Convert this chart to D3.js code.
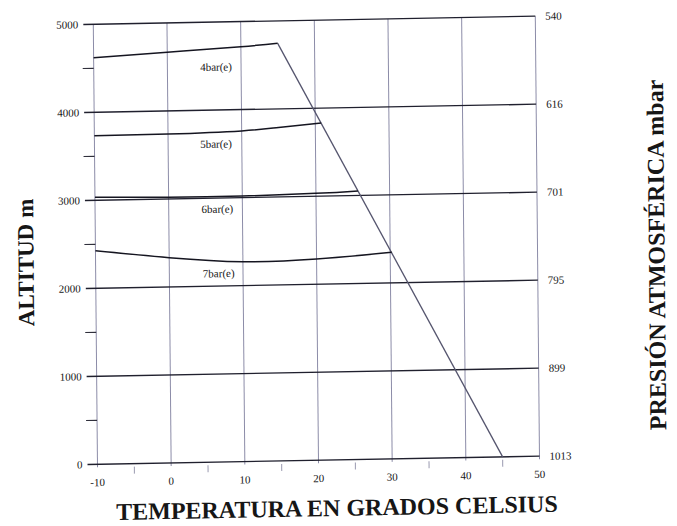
<!DOCTYPE html>
<html>
<head>
<meta charset="utf-8">
<script src="https://cdn.jsdelivr.net/npm/d3@7"></script>
<style>
  body { margin: 0; background: #fff; }
  svg text { font-family: "Liberation Serif", "Times New Roman", serif; fill: #161616; }
</style>
</head>
<body>
<svg id="chart" width="677" height="526"></svg>
<script>
// Axis ticks
const tempTicks = [-10, 0, 10, 20, 30, 40, 50];
const tempMinorTicks = [-5, 5, 15, 25, 35, 45];
const altTicks = [0, 1000, 2000, 3000, 4000, 5000];
const altMinorTicks = [500, 1500, 2500, 3500, 4500];
const pressureLabels = ["1013", "899", "795", "701", "616", "540"];

// Temperature lapse line: [°C, m]
const lapseLine = [[45, 0], [15, 4745]];

// Constant-pressure curves: [°C, m]
const curve4bar = [[-10, 4620], [0, 4667], [10, 4715], [15, 4745]];
const curve5bar = [[-10, 3734], [0, 3738], [10, 3758], [15, 3790], [20.8, 3832]];
const curve6bar = [[-10, 3035], [0, 3020], [10, 3018], [20, 3033], [25.7, 3052]];
const curve7bar = [[-10, 2427], [0, 2333], [10, 2272], [20, 2286], [30.2, 2347]];

const curveNames = ["4bar(e)", "5bar(e)", "6bar(e)", "7bar(e)"];
const curveLabelAt = [[6.6, 4490], [6.5, 3615], [6.6, 2876], [6.7, 2144]];

const W = 442, H = 440;
const svg = d3.select("#chart");
// the printed sheet sits slightly askew
const g = svg.append("g")
  .attr("transform", "matrix(1,-0.0184,0.0095,1,93.3,24.3)");

const x = d3.scaleLinear().domain([-10, 50]).range([0, W]);
const y = d3.scaleLinear().domain([0, 5000]).range([H, 0]);

// vertical grid lines
g.selectAll("line.vgrid").data(tempTicks).join("line")
  .attr("class", "vgrid")
  .attr("x1", d => x(d)).attr("x2", d => x(d))
  .attr("y1", 0).attr("y2", H + 3)
  .attr("stroke", "#8c8ca8").attr("stroke-width", 1);

// minor temperature ticks below the axis
g.selectAll("line.xminor").data(tempMinorTicks).join("line")
  .attr("class", "xminor")
  .attr("x1", d => x(d)).attr("x2", d => x(d))
  .attr("y1", H + 3).attr("y2", H + 10)
  .attr("stroke", "#9a9ab0").attr("stroke-width", 1);

// horizontal grid lines (extend left as ticks)
g.selectAll("line.hgrid").data(altTicks).join("line")
  .attr("class", "hgrid")
  .attr("x1", -10).attr("x2", W)
  .attr("y1", d => y(d)).attr("y2", d => y(d))
  .attr("stroke", "#20202e").attr("stroke-width", 1.4);

g.selectAll("line.yminor").data(altMinorTicks).join("line")
  .attr("class", "yminor")
  .attr("x1", -11).attr("x2", 0)
  .attr("y1", d => y(d)).attr("y2", d => y(d))
  .attr("stroke", "#30303c").attr("stroke-width", 1.2);

// left altitude labels
g.selectAll("text.ylab").data(altTicks).join("text")
  .attr("class", "ylab")
  .attr("x", -15).attr("y", d => y(d)).attr("dy", "0.35em")
  .attr("text-anchor", "end").attr("font-size", 11)
  .text(d => d);

// right pressure labels
g.selectAll("text.plab").data(altTicks).join("text")
  .attr("class", "plab")
  .attr("x", W + 10).attr("y", d => y(d)).attr("dy", "0.35em")
  .attr("text-anchor", "start").attr("font-size", 11)
  .text((d, i) => pressureLabels[i]);

// bottom temperature labels
g.selectAll("text.xlab").data(tempTicks).join("text")
  .attr("class", "xlab")
  .attr("x", d => x(d)).attr("y", H + 18).attr("dy", "0.35em")
  .attr("text-anchor", "middle").attr("font-size", 11)
  .text(d => d);

const line = d3.line().x(d => x(d[0])).y(d => y(d[1]));
const smooth = d3.line().x(d => x(d[0])).y(d => y(d[1])).curve(d3.curveNatural);

// lapse line
g.append("path").datum(lapseLine)
  .attr("d", line)
  .attr("fill", "none").attr("stroke", "#55556e").attr("stroke-width", 1.3);

// pressure curves
const curves = [curve4bar, curve5bar, curve6bar, curve7bar];
g.selectAll("path.pcurve").data(curves).join("path")
  .attr("class", "pcurve")
  .attr("d", smooth)
  .attr("fill", "none").attr("stroke", "#151520").attr("stroke-width", 1.5);

g.selectAll("text.clab").data(curveNames).join("text")
  .attr("class", "clab")
  .attr("x", (d, i) => x(curveLabelAt[i][0]))
  .attr("y", (d, i) => y(curveLabelAt[i][1]))
  .attr("dy", "0.35em")
  .attr("text-anchor", "middle").attr("font-size", 11)
  .text(d => d);

// axis titles
g.append("text")
  .attr("x", 239).attr("y", H + 56)
  .attr("text-anchor", "middle")
  .attr("font-size", 24).attr("font-weight", "bold")
  .text("TEMPERATURA EN GRADOS CELSIUS");

g.append("text")
  .attr("transform", "translate(-62,237) rotate(-90)")
  .attr("text-anchor", "middle")
  .attr("font-size", 23).attr("font-weight", "bold")
  .text("ALTITUD m");

g.append("text")
  .attr("transform", "translate(569,241) rotate(-90)")
  .attr("text-anchor", "middle")
  .attr("font-size", 24).attr("font-weight", "bold")
  .text("PRESIÓN ATMOSFÉRICA mbar");
</script>
</body>
</html>
